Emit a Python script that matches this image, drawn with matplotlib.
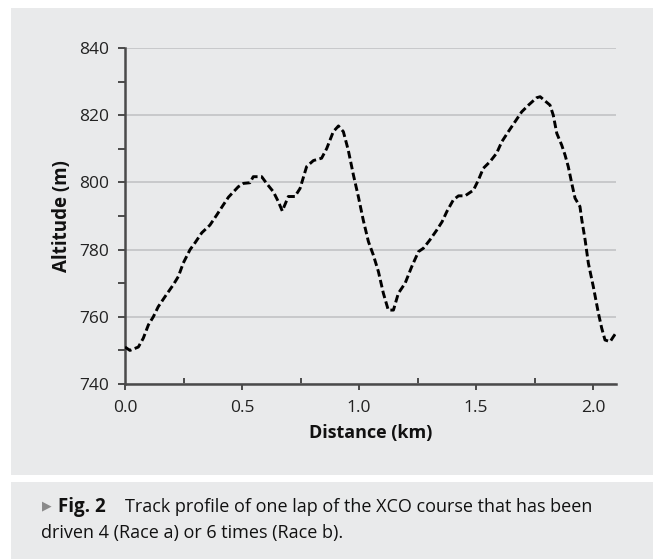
#!/usr/bin/env python3
"""Track profile of one XCO lap."""
import matplotlib
matplotlib.use("Agg")
import matplotlib.pyplot as plt
from matplotlib.patches import Rectangle
from matplotlib.ticker import MultipleLocator, FormatStrFormatter

# altitude profile
distance_km = [
    0.0, 0.021, 0.057, 0.078, 0.10, 0.121, 0.142, 0.171, 0.206, 0.228,
    0.249, 0.278, 0.299, 0.328, 0.363, 0.392, 0.42, 0.442, 0.484, 0.506,
    0.534, 0.548, 0.584, 0.605, 0.634, 0.655, 0.672, 0.698, 0.726, 0.748,
    0.776, 0.805, 0.84, 0.862, 0.89, 0.912, 0.933, 0.954, 0.976, 0.997,
    1.018, 1.04, 1.061, 1.083, 1.104, 1.125, 1.147, 1.168, 1.197, 1.225,
    1.254, 1.275, 1.303, 1.332, 1.355, 1.375, 1.403, 1.425, 1.453, 1.489,
    1.51, 1.531, 1.56, 1.588, 1.61, 1.638, 1.667, 1.695, 1.724, 1.759,
    1.774, 1.799, 1.816, 1.83, 1.845, 1.866, 1.88, 1.894, 1.909, 1.923,
    1.944, 1.952, 1.966, 1.98, 2.001, 2.023, 2.037, 2.051, 2.073, 2.087,
    2.097,
]
altitude_m = [
    751, 750, 751, 753.6, 757.6, 760, 763, 766, 769.5, 772,
    776, 780, 782, 785, 787.3, 790.3, 793.3, 795.6, 798.7, 799.7,
    799.9, 801.7, 801.7, 799.7, 797.2, 794.3, 791.5, 795.8, 795.8, 798.2,
    804.7, 806.5, 807.2, 810.1, 815.1, 816.8, 815.1, 809.6, 802.2, 795.8,
    788.8, 782.4, 778.4, 773.4, 767, 762, 762, 767, 770, 774.9,
    779.4, 780.4, 782.9, 785.8, 788.3, 791.3, 794.8, 796, 796, 797.7,
    800.7, 804.2, 806.2, 808.7, 812.1, 815.1, 818.1, 821, 823, 825.2,
    825.5, 824, 823, 820, 814.6, 811.1, 808.2, 804.7, 799.7, 795.3,
    792.8, 788.8, 782.9, 775.9, 769, 761, 756.6, 753.1, 752.6, 754.1,
    755.1,
]

PANEL = "#e9eaeb"
FONT = "Open Sans"
AXIS_GREY = "#4a4a4a"

W, H = 659, 560
fig = plt.figure(figsize=(W / 100, H / 100), dpi=100, facecolor="white")


def px_rect(x0, y0, x1, y1):
    # pixel box (top-left origin) -> figure fraction rectangle
    return Rectangle((x0 / W, 1 - y1 / H), (x1 - x0) / W, (y1 - y0) / H,
                     transform=fig.transFigure, facecolor=PANEL,
                     edgecolor="none", zorder=-5)


fig.patches.append(px_rect(11, 8, 653, 475))
fig.patches.append(px_rect(11, 482, 653, 559))

ax = fig.add_axes([125 / W, 1 - 384 / H, (616 - 125) / W, (384 - 48) / H])
ax.set_facecolor("none")

ax.plot(distance_km, altitude_m, color="black", linewidth=2.1,
        linestyle=(0, (2.6, 1.2)), dash_capstyle="butt", zorder=3)

ax.set_xlim(0, 2.098)
ax.set_ylim(740, 840)
ax.xaxis.set_major_locator(MultipleLocator(0.5))
ax.xaxis.set_minor_locator(MultipleLocator(0.25))
ax.yaxis.set_major_locator(MultipleLocator(20))
ax.yaxis.set_minor_locator(MultipleLocator(10))
ax.xaxis.set_major_formatter(FormatStrFormatter("%.1f"))

ax.yaxis.grid(True, which="major", color="#bfc0c2", linewidth=1.1)
ax.set_axisbelow(True)

for side in ("top", "right"):
    ax.spines[side].set_visible(False)
for side in ("left", "bottom"):
    ax.spines[side].set_color(AXIS_GREY)
    ax.spines[side].set_linewidth(1.8)

ax.tick_params(axis="x", which="major", direction="out", length=4.5,
               width=1.4, color=AXIS_GREY, pad=7)
ax.tick_params(axis="x", which="minor", direction="in", length=4.5,
               width=1.4, color=AXIS_GREY)
ax.tick_params(axis="y", which="both", direction="out", length=5,
               width=1.4, color=AXIS_GREY, pad=6.5)

for lab in ax.get_xticklabels() + ax.get_yticklabels():
    lab.set_fontfamily(FONT)
    lab.set_fontsize(12.5)
    lab.set_color("#222222")

ax.set_xlabel("Distance (km)", fontfamily=FONT, fontsize=13,
              fontweight="bold", labelpad=6, color="#111111")
ax.set_ylabel("Altitude (m)", fontfamily=FONT, fontsize=13.5,
              fontweight="bold", labelpad=5, color="#111111")

# caption
fig.text(42 / W, 1 - 506 / H, "\u25B6", fontsize=9, color="#8a8a8a",
         va="center", ha="left", family=["DejaVu Sans"])
fig.text(58 / W, 1 - 507 / H, "Fig. 2", fontsize=13.5, fontweight="bold",
         va="center", ha="left", family=FONT, color="#111111")
fig.text(125 / W, 1 - 507 / H,
         "Track profile of one lap of the XCO course that has been",
         fontsize=13, va="center", ha="left", family=FONT,
         color="#111111")
fig.text(41 / W, 1 - 533 / H, "driven 4 (Race a) or 6 times (Race b).",
         fontsize=13, va="center", ha="left", family=FONT,
         color="#111111")

fig.savefig("out.png", dpi=100, facecolor="white")
